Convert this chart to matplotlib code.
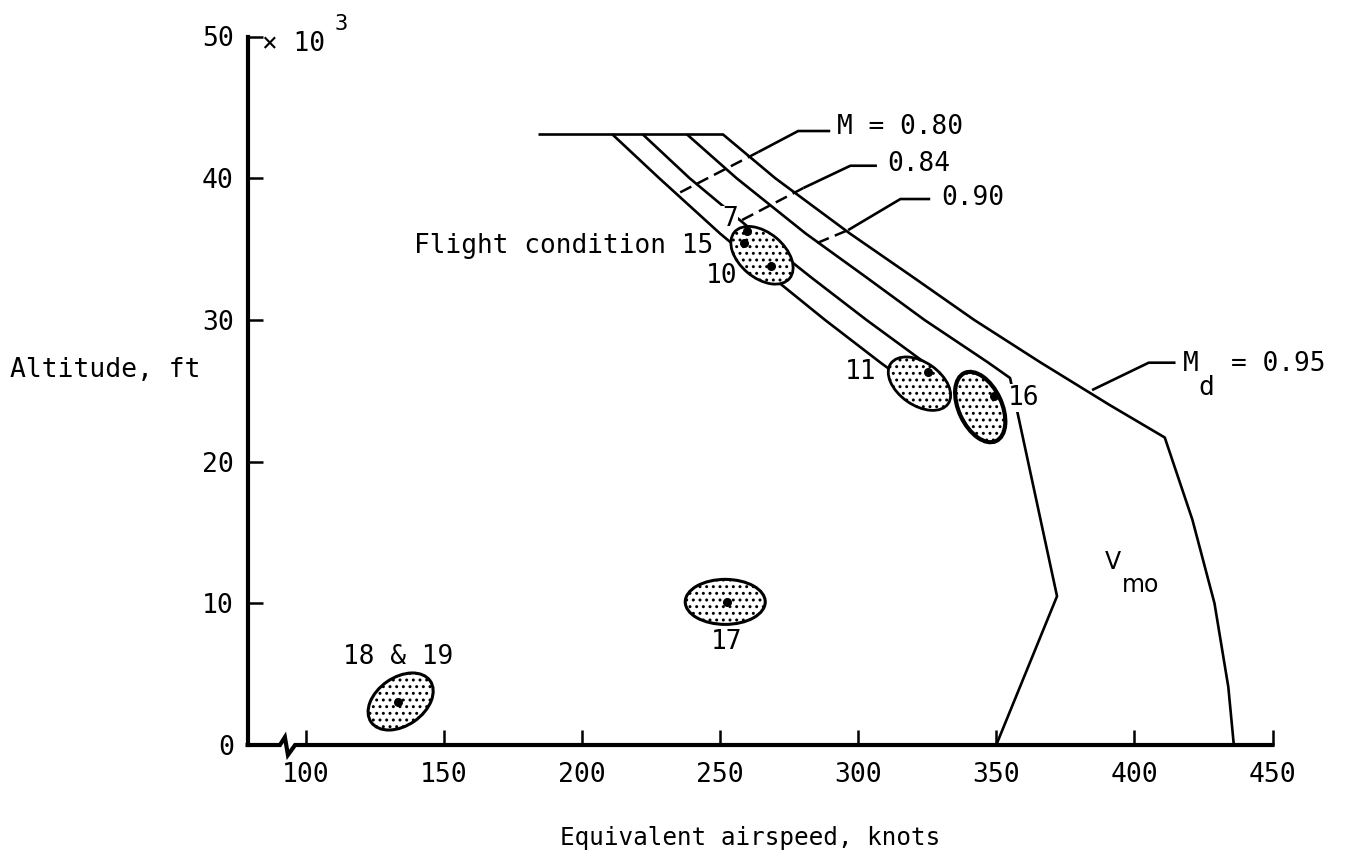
import matplotlib
matplotlib.use("Agg")
import matplotlib.pyplot as plt
from matplotlib.patches import Ellipse
from matplotlib.transforms import ScaledTranslation

DPI = 120
K = 100 / DPI  # sizes below are written for a 100-dpi canvas

plt.rcParams["font.family"] = ["DejaVu Sans Mono"]
plt.rcParams["hatch.linewidth"] = 1.2 * K

# Operating envelope: equivalent airspeed (knots) against altitude (10^3 ft)
ceiling_alt = 43.1
ceiling_eas = [184, 251]

mach080_alt = [43.1, 40.0, 36.1, 33.0, 30.0, 27.0, 26.0]
mach080_eas = [211, 228, 250, 269, 288, 308, 315]

mach084_alt = [43.1, 40.0, 36.1, 33.0, 30.0, 27.0, 26.5]
mach084_eas = [222, 239, 263, 283, 303, 324, 327]

# M = 0.90 boundary turning into the V_mo limit
mmo_alt = [43.1, 40.0, 36.1, 33.0, 30.0, 27.0, 25.9, 10.5, 0.0]
mmo_eas = [238, 256, 281, 303, 324, 347, 355, 372, 350]

# M_d = 0.95 boundary turning into the V_d limit
md_alt = [43.1, 40.0, 36.1, 33.0, 30.0, 27.0, 24.0, 21.7, 15.9, 10.0, 4.1, 0.0]
md_eas = [251, 270, 297, 320, 342, 366, 391, 411, 421, 429, 434, 436]

# Flight conditions (points)
cond_labels = ["7", "15", "10", "11", "16", "17", "18 & 19"]
cond_eas = [259.8, 258.6, 268.5, 325.3, 349.1, 252.5, 133.6]
cond_alt = [36.3, 35.4, 33.8, 26.3, 24.6, 10.1, 3.06]

# Shaded regions around groups of conditions
region_eas = [265.2, 322.2, 344.2, 251.9, 134.4]
region_alt = [34.56, 25.5, 23.85, 10.1, 3.07]

x_ticks = [100, 150, 200, 250, 300, 350, 400, 450]
y_ticks = [0, 10, 20, 30, 40, 50]

W, H = 1346, 862
fig = plt.figure(figsize=(W / DPI, H / DPI), dpi=DPI)
x0, x1, y0, y1 = 247.6, 1272.5, 745.0, 36.5
ax = fig.add_axes([x0 / W, 1 - y0 / H, (x1 - x0) / W, (y0 - y1) / H])
ax.set_xlim(79, 450)
ax.set_ylim(0, 50)

for s in ["top", "right", "bottom"]:
    ax.spines[s].set_visible(False)
ax.spines["left"].set_linewidth(3.0 * K)
ax.spines["left"].set_bounds(0, 50)

# x axis with a break mark near the origin
ax.plot([79, 90.7, 92.5, 93.6, 96.2, 450], [0, 0, 0.55, -0.7, 0, 0],
        color="black", lw=3.0 * K, clip_on=False, solid_joinstyle="miter", zorder=5)

ax.set_xticks(x_ticks)
ax.set_yticks(y_ticks)
ax.tick_params(axis="both", direction="in", length=11 * K, width=1.8 * K,
               color="black", labelsize=19 * K)
ax.tick_params(axis="x", pad=12 * K)
ax.tick_params(axis="y", pad=10 * K)

line_kw = dict(color="black", lw=1.9 * K, solid_capstyle="butt", zorder=2)
ax.plot(ceiling_eas, [ceiling_alt, ceiling_alt], **line_kw)
ax.plot(mach080_eas, mach080_alt, **line_kw)
ax.plot(mach084_eas, mach084_alt, **line_kw)
ax.plot(mmo_eas, mmo_alt, **line_kw)
ax.plot(md_eas, md_alt, **line_kw)

# leader lines for the Mach labels: dashed where they cross the envelope
dash_kw = dict(color="black", lw=1.8 * K, dashes=(5, 2.6), zorder=2)
ax.plot([235.6, 263.9], [39.0, 41.85], **dash_kw)
ax.plot([263.9, 278.3, 289.9], [41.85, 43.33, 43.33], **line_kw)
ax.plot([258.0, 280.2], [37.05, 39.31], **dash_kw)
ax.plot([280.2, 297.2, 306.8], [39.31, 40.88, 40.88], **line_kw)
ax.plot([285.2, 296.4], [35.43, 36.34], **dash_kw)
ax.plot([296.4, 315.3, 326.1], [36.34, 38.53, 38.53], **line_kw)
ax.plot([384.7, 405.2, 414.9], [25.05, 26.98, 26.98], **line_kw)

fs = 18.8 * K
ax.text(292.5, 43.6, "M = 0.80", fontsize=fs, va="center", ha="left")
ax.text(310.5, 41.0, "0.84", fontsize=fs, va="center", ha="left")
ax.text(330.0, 38.6, "0.90", fontsize=fs, va="center", ha="left")
ax.text(417.5, 26.9, "M", fontsize=fs, va="center", ha="left")
ax.text(423.0, 25.2, "d", fontsize=fs, va="center", ha="left")
ax.text(435.0, 26.9, "= 0.95", fontsize=fs, va="center", ha="left")
ax.text(392.3, 12.9, "V", fontsize=17 * K, va="center", ha="center",
        family="DejaVu Sans")
ax.text(395.6, 11.3, "mo", fontsize=17 * K, va="center", ha="left",
        family="DejaVu Sans")

# shaded regions, sized in screen pixels so their tilt is preserved
region_size = [(72, 45, -40, 2.0), (70, 43, -35, 2.0), (75, 43, -65, 3.0),
               (80, 45, 0, 2.2), (72, 48, 35, 2.2)]
for cx, cy, (w, h, ang, lw) in zip(region_eas, region_alt, region_size):
    tr = fig.dpi_scale_trans + ScaledTranslation(cx, cy, ax.transData)
    e = Ellipse((0, 0), w / DPI, h / DPI, angle=ang, transform=tr,
                facecolor="white", edgecolor="black", lw=lw * K, hatch="...",
                zorder=3)
    ax.add_patch(e)

ax.scatter(cond_eas, cond_alt, s=28 * K * K, color="black", zorder=4)

white = dict(facecolor="white", edgecolor="none", pad=0.5)
ax.text(253.5, 37.1, "7", fontsize=fs, va="center", ha="center", bbox=white,
        zorder=2.5)
ax.text(247.6, 35.2, "Flight condition 15", fontsize=fs, va="center", ha="right")
ax.text(250.4, 33.1, "10", fontsize=fs, va="center", ha="center")
ax.text(300.8, 26.3, "11", fontsize=fs, va="center", ha="center")
ax.text(360.0, 24.5, "16", fontsize=fs, va="center", ha="center", bbox=white,
        zorder=2.5)
ax.text(252.5, 7.3, "17", fontsize=fs, va="center", ha="center")
ax.text(133.6, 6.2, "18 & 19", fontsize=fs, va="center", ha="center")

ax.text(84.3, 49.45, "× 10", fontsize=fs, va="center", ha="left")
ax.text(110.5, 50.9, "3", fontsize=16 * K, va="center", ha="left")

fig.text(10 / W, 1 - 370 / H, "Altitude, ft", fontsize=19 * K, va="center",
         ha="left")
fig.text(750 / W, 1 - 838 / H, "Equivalent airspeed, knots", fontsize=17.5 * K,
         va="center", ha="center")

fig.savefig("out.png", dpi=DPI, facecolor="white")
